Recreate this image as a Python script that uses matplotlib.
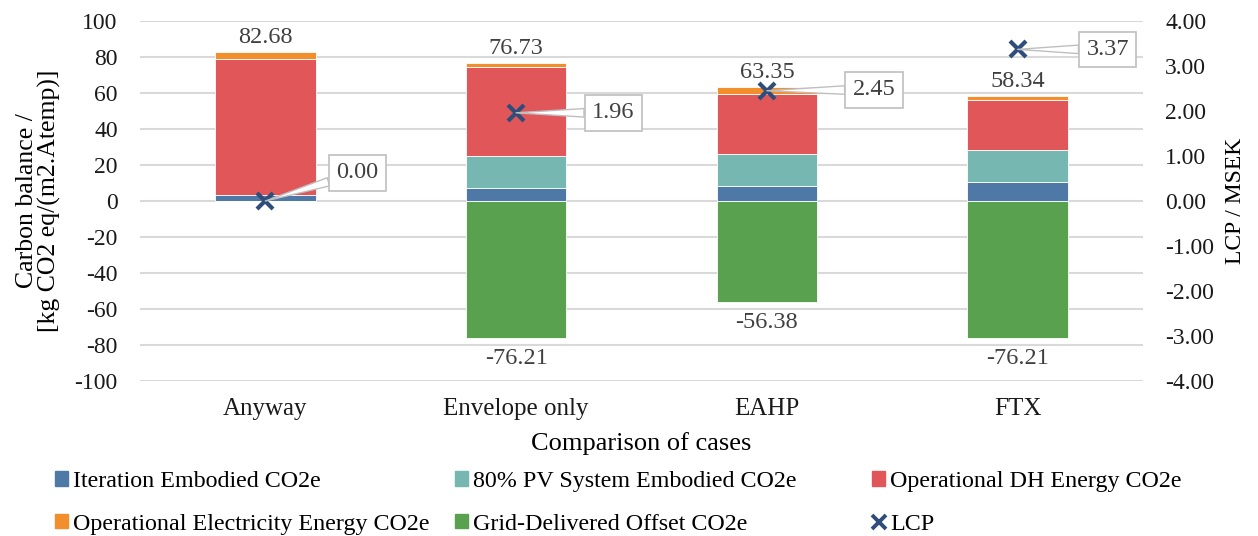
import matplotlib.pyplot as plt
from matplotlib.patches import Patch
from matplotlib.lines import Line2D
import numpy as np

plt.rcParams['font.family'] = ['Liberation Serif', 'DejaVu Serif']
plt.rcParams['axes.unicode_minus'] = False

# Data
cases = ['Anyway', 'Envelope only', 'EAHP', 'FTX']
iteration_embodied = [3.5, 7.0, 8.3, 10.5]
pv_embodied = [0.0, 17.9, 17.9, 17.9]
dh_energy = [75.5, 49.4, 33.5, 27.6]
elec_energy = [3.68, 2.43, 3.65, 2.34]
grid_offset = [0.0, -76.21, -56.38, -76.21]
totals = [82.68, 76.73, 63.35, 58.34]
lcp = [0.00, 1.96, 2.45, 3.37]

series_names = ['Iteration Embodied CO2e', '80% PV System Embodied CO2e',
                'Operational DH Energy CO2e', 'Operational Electricity Energy CO2e',
                'Grid-Delivered Offset CO2e', 'LCP']
colors = ['#4e79a7', '#76b7b2', '#e15759', '#f28e2b', '#59a14f']
lcp_color = '#2e4d7b'
label_grey = '#404040'

fig = plt.figure(figsize=(12.58, 5.36), dpi=100)
ax = fig.add_axes([0.1113, 0.2892, 0.7973, 0.6716])
x = np.arange(len(cases))
width = 0.4

# Stacked positive bars
bottom = np.zeros(len(cases))
for vals, c in zip([iteration_embodied, pv_embodied, dh_energy, elec_energy], colors[:4]):
    ax.bar(x, vals, width, bottom=bottom, color=c, edgecolor='white', linewidth=0.6, zorder=3)
    bottom += np.array(vals)
ax.bar(x, grid_offset, width, color=colors[4], edgecolor='white', linewidth=0.6, zorder=3)

# Total and offset labels
for i in range(len(cases)):
    ax.annotate(f'{totals[i]:.2f}', (x[i], totals[i]), xytext=(0, 3), textcoords='offset points',
                ha='center', va='bottom', fontsize=17.5, color=label_grey)
    if grid_offset[i] != 0:
        ax.annotate(f'{grid_offset[i]:.2f}', (x[i], grid_offset[i]), xytext=(0, -7),
                    textcoords='offset points', ha='center', va='top', fontsize=17.5, color=label_grey)

ax.set_xlim(-0.5, len(cases) - 0.5)
ax.set_ylim(-100, 100)
ax.set_yticks(np.arange(-100, 101, 20))
ax.grid(axis='y', color='#d9d9d9', linewidth=1.5, zorder=0)
for s in ax.spines.values():
    s.set_visible(False)
ax.tick_params(axis='y', length=0, labelsize=17, colors='#1a1a1a', pad=16)
ax.tick_params(axis='x', length=0, labelsize=18, colors='#1a1a1a', pad=12)
ax.set_xticks(x)
ax.set_xticklabels(cases)
ax.set_xlabel('Comparison of cases', fontsize=19, labelpad=9)
ax.set_ylabel('Carbon balance /\n[kg CO2 eq/(m2.Atemp)]', fontsize=18.5, labelpad=10,
              linespacing=1.0)

# Secondary axis for LCP
ax2 = ax.twinx()
ax2.set_ylim(-4, 4)
ax2.set_yticks(np.arange(-4, 4.01, 1))
ax2.set_yticklabels([f'{v:.2f}' for v in np.arange(-4, 4.01, 1)])
for s in ax2.spines.values():
    s.set_visible(False)
ax2.tick_params(length=0, labelsize=17, colors='#1a1a1a', pad=16)
ax2.set_ylabel('LCP / MSEK', fontsize=17, labelpad=8)
ax2.plot(x, lcp, linestyle='none', marker='x', markersize=12, markeredgewidth=3,
         color=lcp_color, zorder=5)

offsets = [(92, 28), (97, 0), (107, 1), (90, 0)]
for i in range(len(cases)):
    ax2.annotate(f'{lcp[i]:.2f}', (x[i], lcp[i]), xytext=offsets[i], textcoords='offset pixels',
                 ha='center', va='center', fontsize=17.5, color=label_grey,
                 bbox=dict(boxstyle='square,pad=0.3', fc='white', ec='#bfbfbf', lw=1.2),
                 arrowprops=dict(arrowstyle='wedge,tail_width=0.35', fc='white', ec='#bfbfbf',
                                 lw=1.0, shrinkA=0, shrinkB=0),
                 zorder=6)

# Legend: three columns placed at fixed positions
handles = [Patch(color=c) for c in colors] + [
    Line2D([], [], linestyle='none', marker='x', markersize=10, markeredgewidth=2.8, color=lcp_color)]
columns = [[0, 3], [1, 4], [2, 5]]
col_x = [0.030, 0.348, 0.680]
for idx, cx in zip(columns, col_x):
    fig.legend([handles[i] for i in idx], [series_names[i] for i in idx],
               loc='center left', bbox_to_anchor=(cx, 0.062), ncol=1, frameon=False,
               fontsize=17.3, handlelength=0.55, handleheight=0.55, handletextpad=0.2,
               labelspacing=0.9, borderpad=0.2)

fig.savefig('out.png', dpi=100)
